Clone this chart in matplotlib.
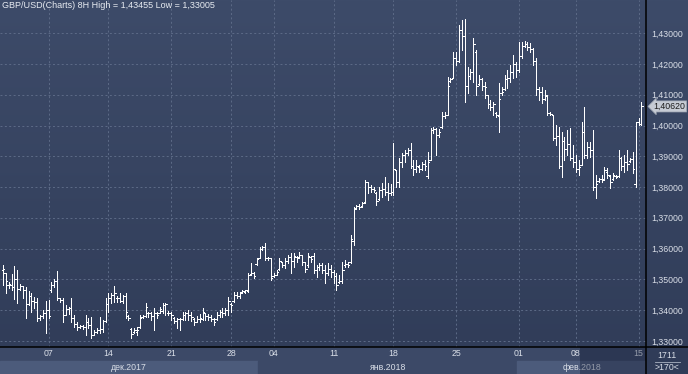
import numpy as np
import matplotlib
matplotlib.use('Agg')
import matplotlib.pyplot as plt
from matplotlib.colors import LinearSegmentedColormap
from matplotlib.lines import Line2D

# --- Data (GBP/USD, 8H bars) ---
opens = [
    # early Dec
    1.3530, 1.3520, 1.3480, 1.3480, 1.3475, 1.3500, 1.3470, 1.3478, 1.3465, 1.3420, 1.3445, 1.3430, 1.3425,
    1.3375, 1.3380, 1.3390, 1.3400, 1.3465, 1.3480, 1.3495, 1.3440, 1.3432, 1.3385, 1.3405, 1.3408, 1.3375,
    1.3355, 1.3345, 1.3348, 1.3345, 1.3360, 1.3350, 1.3320, 1.3330, 1.3335, 1.3340, 1.3365, 1.3420,
    # mid/late Dec
    1.3440, 1.3448, 1.3440, 1.3440, 1.3430, 1.3445, 1.3380, 1.3340, 1.3330, 1.3330, 1.3345, 1.3378, 1.3382,
    1.3390, 1.3392, 1.3380, 1.3390, 1.3392, 1.3398, 1.3415, 1.3392, 1.3390, 1.3375, 1.3365, 1.3370, 1.3370,
    1.3385, 1.3390, 1.3385, 1.3372, 1.3362, 1.3372, 1.3372, 1.3390, 1.3380, 1.3378, 1.3372, 1.3370,
    # end Dec / early Jan
    1.3385, 1.3395, 1.3390, 1.3400, 1.3420, 1.3430, 1.3450, 1.3445, 1.3458, 1.3460, 1.3462, 1.3518, 1.3520,
    1.3550, 1.3570, 1.3600, 1.3605, 1.3570, 1.3568, 1.3510, 1.3515, 1.3532, 1.3555, 1.3548, 1.3560, 1.3572,
    1.3560, 1.3572, 1.3572, 1.3578, 1.3555, 1.3545, 1.3572, 1.3575, 1.3530, 1.3540, 1.3545, 1.3530, 1.3520,
    # mid Jan
    1.3535, 1.3525, 1.3510, 1.3490, 1.3495, 1.3545, 1.3550, 1.3555, 1.3625, 1.3732, 1.3738, 1.3738, 1.3750,
    1.3815, 1.3800, 1.3795, 1.3782, 1.3760, 1.3790, 1.3795, 1.3785, 1.3780, 1.3785, 1.3855, 1.3815, 1.3880,
    1.3905, 1.3912, 1.3920, 1.3870, 1.3860, 1.3865, 1.3860, 1.3875, 1.3835, 1.3888, 1.3985,
    # late Jan
    1.3988, 1.3970, 1.3995, 1.4030, 1.4035, 1.4145, 1.4155, 1.4220, 1.4210, 1.4310, 1.4290, 1.4130, 1.4160,
    1.4175, 1.4240, 1.4135, 1.4150, 1.4130, 1.4100, 1.4070, 1.4060, 1.4040, 1.4030, 1.4105, 1.4118, 1.4150,
    1.4155, 1.4175, 1.4200, 1.4180, 1.4225, 1.4260, 1.4265, 1.4255, 1.4250, 1.4210, 1.4120,
    # Feb
    1.4110, 1.4085, 1.4095, 1.4040, 1.4034, 1.3960, 1.3965, 1.3870, 1.3950, 1.3925, 1.3940, 1.3895, 1.3880,
    1.3860, 1.3872, 1.3980, 1.3905, 1.3930, 1.3920, 1.3800, 1.3820, 1.3825, 1.3825, 1.3850, 1.3835, 1.3825,
    1.3835, 1.3835, 1.3895, 1.3870, 1.3880, 1.3885, 1.3890, 1.3810, 1.4010, 1.4005,
]
highs = [
    1.3547, 1.3521, 1.3492, 1.3518, 1.3544, 1.3531, 1.3485, 1.3479, 1.3476, 1.3463, 1.3456, 1.3443, 1.3440,
    1.3385, 1.3401, 1.3430, 1.3433, 1.3492, 1.3502, 1.3528, 1.3440, 1.3440, 1.3417, 1.3411, 1.3440, 1.3385,
    1.3362, 1.3352, 1.3352, 1.3385, 1.3375, 1.3378, 1.3336, 1.3342, 1.3378, 1.3368, 1.3440, 1.3456,

    1.3456, 1.3479, 1.3446, 1.3456, 1.3450, 1.3456, 1.3385, 1.3342, 1.3342, 1.3346, 1.3385, 1.3385, 1.3424,
    1.3394, 1.3394, 1.3407, 1.3394, 1.3411, 1.3424, 1.3424, 1.3398, 1.3394, 1.3378, 1.3375, 1.3375, 1.3394,
    1.3394, 1.3401, 1.3394, 1.3375, 1.3381, 1.3388, 1.3407, 1.3391, 1.3388, 1.3385, 1.3375, 1.3394,

    1.3401, 1.3407, 1.3407, 1.3443, 1.3424, 1.3459, 1.3459, 1.3459, 1.3466, 1.3466, 1.3521, 1.3554, 1.3524,
    1.3570, 1.3606, 1.3609, 1.3619, 1.3573, 1.3570, 1.3521, 1.3531, 1.3570, 1.3557, 1.3570, 1.3580, 1.3586,
    1.3586, 1.3576, 1.3589, 1.3580, 1.3557, 1.3586, 1.3576, 1.3586, 1.3547, 1.3554, 1.3554, 1.3547, 1.3554,

    1.3547, 1.3531, 1.3521, 1.3515, 1.3557, 1.3563, 1.3557, 1.3645, 1.3736, 1.3742, 1.3745, 1.3752, 1.3823,
    1.3817, 1.3807, 1.3800, 1.3784, 1.3800, 1.3813, 1.3833, 1.3813, 1.3810, 1.3943, 1.3856, 1.3895, 1.3911,
    1.3921, 1.3927, 1.3943, 1.3888, 1.3888, 1.3872, 1.3882, 1.3888, 1.3914, 1.3992, 1.3995,

    1.3992, 1.3989, 1.4044, 1.4044, 1.4158, 1.4155, 1.4239, 1.4239, 1.4327, 1.4343, 1.43455, 1.4189, 1.4183,
    1.4285, 1.4246, 1.4165, 1.4155, 1.4142, 1.4100, 1.4083, 1.4077, 1.4044, 1.4138, 1.4125, 1.4165, 1.4181,
    1.4197, 1.4230, 1.4207, 1.4272, 1.4272, 1.4275, 1.4272, 1.4268, 1.4252, 1.4220, 1.4125,

    1.4125, 1.4115, 1.4099, 1.4044, 1.4034, 1.4002, 1.3995, 1.3979, 1.3963, 1.3986, 1.3992, 1.3937, 1.3905,
    1.3888, 1.4012, 1.4060, 1.3947, 1.3947, 1.3986, 1.3839, 1.3830, 1.3839, 1.3865, 1.3862, 1.3839, 1.3846,
    1.3839, 1.3921, 1.3898, 1.3905, 1.3921, 1.3895, 1.3914, 1.4012, 1.4025, 1.4077,
]
lows = [
    1.3482, 1.3456, 1.3472, 1.3466, 1.3437, 1.3424, 1.3466, 1.3440, 1.3375, 1.3417, 1.3394, 1.3407, 1.3365,
    1.3368, 1.3375, 1.3326, 1.3375, 1.3459, 1.3476, 1.3433, 1.3427, 1.3362, 1.3385, 1.3388, 1.3362, 1.3346,
    1.3336, 1.3342, 1.3339, 1.3320, 1.3342, 1.3310, 1.3323, 1.3326, 1.3326, 1.3329, 1.3362, 1.3394,

    1.3424, 1.3427, 1.3427, 1.3427, 1.3424, 1.3375, 1.3368, 1.3310, 1.3326, 1.3320, 1.3342, 1.3375, 1.3378,
    1.3378, 1.3368, 1.3336, 1.3375, 1.3391, 1.3391, 1.3385, 1.3385, 1.3368, 1.3359, 1.3342, 1.3336, 1.3368,
    1.3368, 1.3368, 1.3365, 1.3352, 1.3362, 1.3362, 1.3368, 1.3368, 1.3368, 1.3365, 1.3352, 1.3368,

    1.3378, 1.3378, 1.3385, 1.3385, 1.3394, 1.3427, 1.3440, 1.3440, 1.3456, 1.3455, 1.3459, 1.3515, 1.3505,
    1.3547, 1.3570, 1.3596, 1.3563, 1.3563, 1.3498, 1.3508, 1.3515, 1.3531, 1.3541, 1.3537, 1.3554, 1.3521,
    1.3541, 1.3557, 1.3570, 1.3547, 1.3524, 1.3541, 1.3557, 1.3521, 1.3508, 1.3531, 1.3521, 1.3489, 1.3515,

    1.3508, 1.3489, 1.3466, 1.3489, 1.3489, 1.3541, 1.3541, 1.3554, 1.3612, 1.3729, 1.3729, 1.3736, 1.3749,
    1.3781, 1.3784, 1.3784, 1.3742, 1.3758, 1.3768, 1.3774, 1.3758, 1.3774, 1.3774, 1.3800, 1.3800, 1.3866,
    1.3882, 1.3904, 1.3862, 1.3840, 1.3849, 1.3849, 1.3856, 1.3856, 1.3830, 1.3888, 1.3976,

    1.3905, 1.3963, 1.3992, 1.4025, 1.4034, 1.4142, 1.4155, 1.4197, 1.4207, 1.4246, 1.4077, 1.4106, 1.4151,
    1.4142, 1.4100, 1.4132, 1.4116, 1.4090, 1.4057, 1.4051, 1.4034, 1.4028, 1.3978, 1.4100, 1.4116, 1.4122,
    1.4142, 1.4155, 1.4158, 1.4175, 1.4220, 1.4256, 1.4246, 1.4239, 1.4197, 1.4100, 1.4083,

    1.4073, 1.4083, 1.4034, 1.4034, 1.3953, 1.3937, 1.3862, 1.3833, 1.3888, 1.3905, 1.3888, 1.3866, 1.3849,
    1.3840, 1.3872, 1.3895, 1.3895, 1.3898, 1.3791, 1.3765, 1.3817, 1.3817, 1.3823, 1.3830, 1.3797, 1.3823,
    1.3830, 1.3833, 1.3856, 1.3849, 1.3856, 1.3882, 1.3846, 1.3800, 1.4002, 1.4002,
]
closes = [
    1.3532, 1.3495, 1.3485, 1.3475, 1.3500, 1.3470, 1.3478, 1.3465, 1.3420, 1.3445, 1.3430, 1.3425, 1.3375,
    1.3380, 1.3390, 1.3400, 1.3380, 1.3480, 1.3495, 1.3440, 1.3432, 1.3385, 1.3405, 1.3408, 1.3375, 1.3355,
    1.3345, 1.3348, 1.3345, 1.3360, 1.3350, 1.3320, 1.3330, 1.3335, 1.3340, 1.3365, 1.3420, 1.3440,

    1.3448, 1.3455, 1.3440, 1.3430, 1.3445, 1.3395, 1.3375, 1.3322, 1.3335, 1.3335, 1.3375, 1.3382, 1.3410,
    1.3390, 1.3380, 1.3390, 1.3385, 1.3402, 1.3415, 1.3420, 1.3390, 1.3385, 1.3365, 1.3370, 1.3370, 1.3385,
    1.3390, 1.3385, 1.3378, 1.3362, 1.3372, 1.3375, 1.3395, 1.3380, 1.3378, 1.3372, 1.3360, 1.3385,

    1.3395, 1.3390, 1.3400, 1.3430, 1.3415, 1.3450, 1.3445, 1.3455, 1.3462, 1.3464, 1.3515, 1.3520, 1.3510,
    1.3565, 1.3600, 1.3605, 1.3570, 1.3568, 1.3505, 1.3515, 1.3525, 1.3560, 1.3548, 1.3560, 1.3572, 1.3560,
    1.3575, 1.3570, 1.3580, 1.3555, 1.3535, 1.3575, 1.3565, 1.3530, 1.3540, 1.3545, 1.3530, 1.3520, 1.3535,

    1.3525, 1.3510, 1.3480, 1.3495, 1.3530, 1.3550, 1.3545, 1.3630, 1.3730, 1.3738, 1.3735, 1.3748, 1.3815,
    1.3800, 1.3795, 1.3790, 1.3755, 1.3790, 1.3795, 1.3785, 1.3780, 1.3785, 1.3860, 1.3815, 1.3880, 1.3905,
    1.3912, 1.3920, 1.3870, 1.3860, 1.3870, 1.3860, 1.3875, 1.3870, 1.3880, 1.3985, 1.3990,

    1.3970, 1.3978, 1.4030, 1.4035, 1.4130, 1.4150, 1.4220, 1.4210, 1.4310, 1.4290, 1.4130, 1.4160, 1.4175,
    1.4265, 1.4130, 1.4150, 1.4130, 1.4125, 1.4070, 1.4060, 1.4070, 1.4035, 1.4085, 1.4110, 1.4150, 1.4155,
    1.4175, 1.4200, 1.4180, 1.4225, 1.4260, 1.4265, 1.4255, 1.4250, 1.4210, 1.4120, 1.4110,

    1.4085, 1.4100, 1.4040, 1.4038, 1.3960, 1.3965, 1.3870, 1.3950, 1.3925, 1.3940, 1.3895, 1.3880, 1.3860,
    1.3865, 1.3980, 1.3905, 1.3930, 1.3920, 1.3800, 1.3810, 1.3825, 1.3822, 1.3855, 1.3840, 1.3815, 1.3840,
    1.3832, 1.3895, 1.3870, 1.3880, 1.3875, 1.3890, 1.3860, 1.4010, 1.4005, 1.4062,
]

# first bar of each week and its day label
week_idx = [16, 37, 59, 80, 95, 116, 137, 159, 181, 201, 223]
week_labels = ['07', '14', '21', '28', '04', '11', '18', '25', '01', '08', '15']
# first bar of each month
month_idx = [0, 90, 181]
month_labels = ['дек.2017', 'янв.2018', 'фев.2018']

price_ticks = [1.33, 1.34, 1.35, 1.36, 1.37, 1.38, 1.39, 1.40, 1.41, 1.42, 1.43]
title = 'GBP/USD(Charts) 8H High = 1,43455 Low = 1,33005'

# --- Style ---
W, H = 688, 374
PLOT_R = 646
PLOT_B = 347
BG_TOP = '#3d4b69'
BG_BOT = '#303c58'
GRID = '#5d6b87'
TXT = '#d9dee7'
XLIM = (-1.05, 225.6)
YLIM = (1.3280, 1.4408)
BAR_LW = 0.72   # one pixel at 100 dpi
TICK = 0.5

plt.rcParams['font.family'] = ['Liberation Sans', 'DejaVu Sans']

fig = plt.figure(figsize=(W / 100, H / 100), dpi=100)

# background gradient
bg = fig.add_axes([0, 0, 1, 1], zorder=-10)
cmap = LinearSegmentedColormap.from_list('bg', [BG_BOT, BG_TOP])
bg.imshow(np.linspace(1, 0, 256).reshape(-1, 1), aspect='auto', cmap=cmap,
          extent=[0, 1, 0, 1], vmin=0, vmax=1)
bg.axis('off')

ax = fig.add_axes([0, (H - PLOT_B) / H, PLOT_R / W, PLOT_B / H])
ax.set_facecolor('none')
ax.set_xlim(*XLIM)
ax.set_ylim(*YLIM)

x = np.arange(len(closes))
o, h, l, c = map(np.array, (opens, highs, lows, closes))
ax.vlines(x, l, h, color='white', lw=BAR_LW, antialiased=False, zorder=3)
ax.hlines(o, x - TICK, x, color='white', lw=BAR_LW, antialiased=False, zorder=3)
ax.hlines(c, x, x + TICK, color='white', lw=BAR_LW, antialiased=False, zorder=3)

ax.set_yticks(price_ticks)
ax.set_yticklabels([f'{p:.5f}'.replace('.', ',') for p in price_ticks])
ax.yaxis.tick_right()
ax.tick_params(axis='y', length=0, pad=4, labelsize=6.3, labelcolor=TXT)
ax.set_xticks(week_idx)
ax.tick_params(axis='x', length=0, labelbottom=False)
ax.grid(True, color=GRID, lw=0.7, ls=(0, (2, 2.5)))
for s in ax.spines.values():
    s.set_visible(False)

# last price marker
ax.text(1.012, closes[-1], f'{closes[-1]:.5f}'.replace('.', ','), transform=ax.get_yaxis_transform(),
        ha='left', va='center', fontsize=6.3, color='#1c1c1c', clip_on=False, zorder=6,
        bbox=dict(boxstyle='larrow,pad=0.12', fc='#c6cbd4', ec='#9aa2b0', lw=0.5))

# date strip
axb = fig.add_axes([0, 0, PLOT_R / W, (H - PLOT_B) / H])
axb.set_xlim(*XLIM)
axb.set_ylim(0, 27)
axb.axis('off')
axb.axhspan(13, 27, color='#3c4967', zorder=0)
bounds = [i - 0.5 for i in month_idx[1:]]
edges = [XLIM[0]] + bounds + [XLIM[1]]
for k, lab in enumerate(month_labels):
    axb.axvspan(edges[k], edges[k + 1], ymin=0, ymax=13 / 27,
                color='#4c5b7b' if k % 2 == 0 else '#3c4967', zorder=0)
    axb.text((edges[k] + edges[k + 1]) / 2, 6.5, lab, ha='center', va='center',
             fontsize=6.3, color=TXT, zorder=2)
for idx, lab in zip(week_idx, week_labels):
    axb.text(idx, 20, lab, ha='center', va='center', fontsize=6.3, color=TXT, zorder=2)
axb.axvspan(202.5, XLIM[1], color='#101830', alpha=0.35, zorder=4, lw=0)

# right-bottom counter
fig.text(667 / W, (H - 355) / H, '1711', ha='center', va='center', fontsize=6.3, color=TXT)
fig.text(667 / W, (H - 368) / H, '>170<', ha='center', va='center', fontsize=6.3, color=TXT)
fig.add_artist(Line2D([655 / W, 680 / W], [(H - 361.5) / H] * 2, color='#aab3c2', lw=0.6))

# separators
fig.add_artist(Line2D([0, 1], [(H - PLOT_B) / H] * 2, color='black', lw=1.1))
fig.add_artist(Line2D([PLOT_R / W] * 2, [0, 1], color='black', lw=1.1))

fig.text(2 / W, 1 - 6 / H, title, ha='left', va='center', fontsize=6.5, color='#e8ecf2')

fig.savefig('out.png', dpi=100, facecolor=BG_TOP)
